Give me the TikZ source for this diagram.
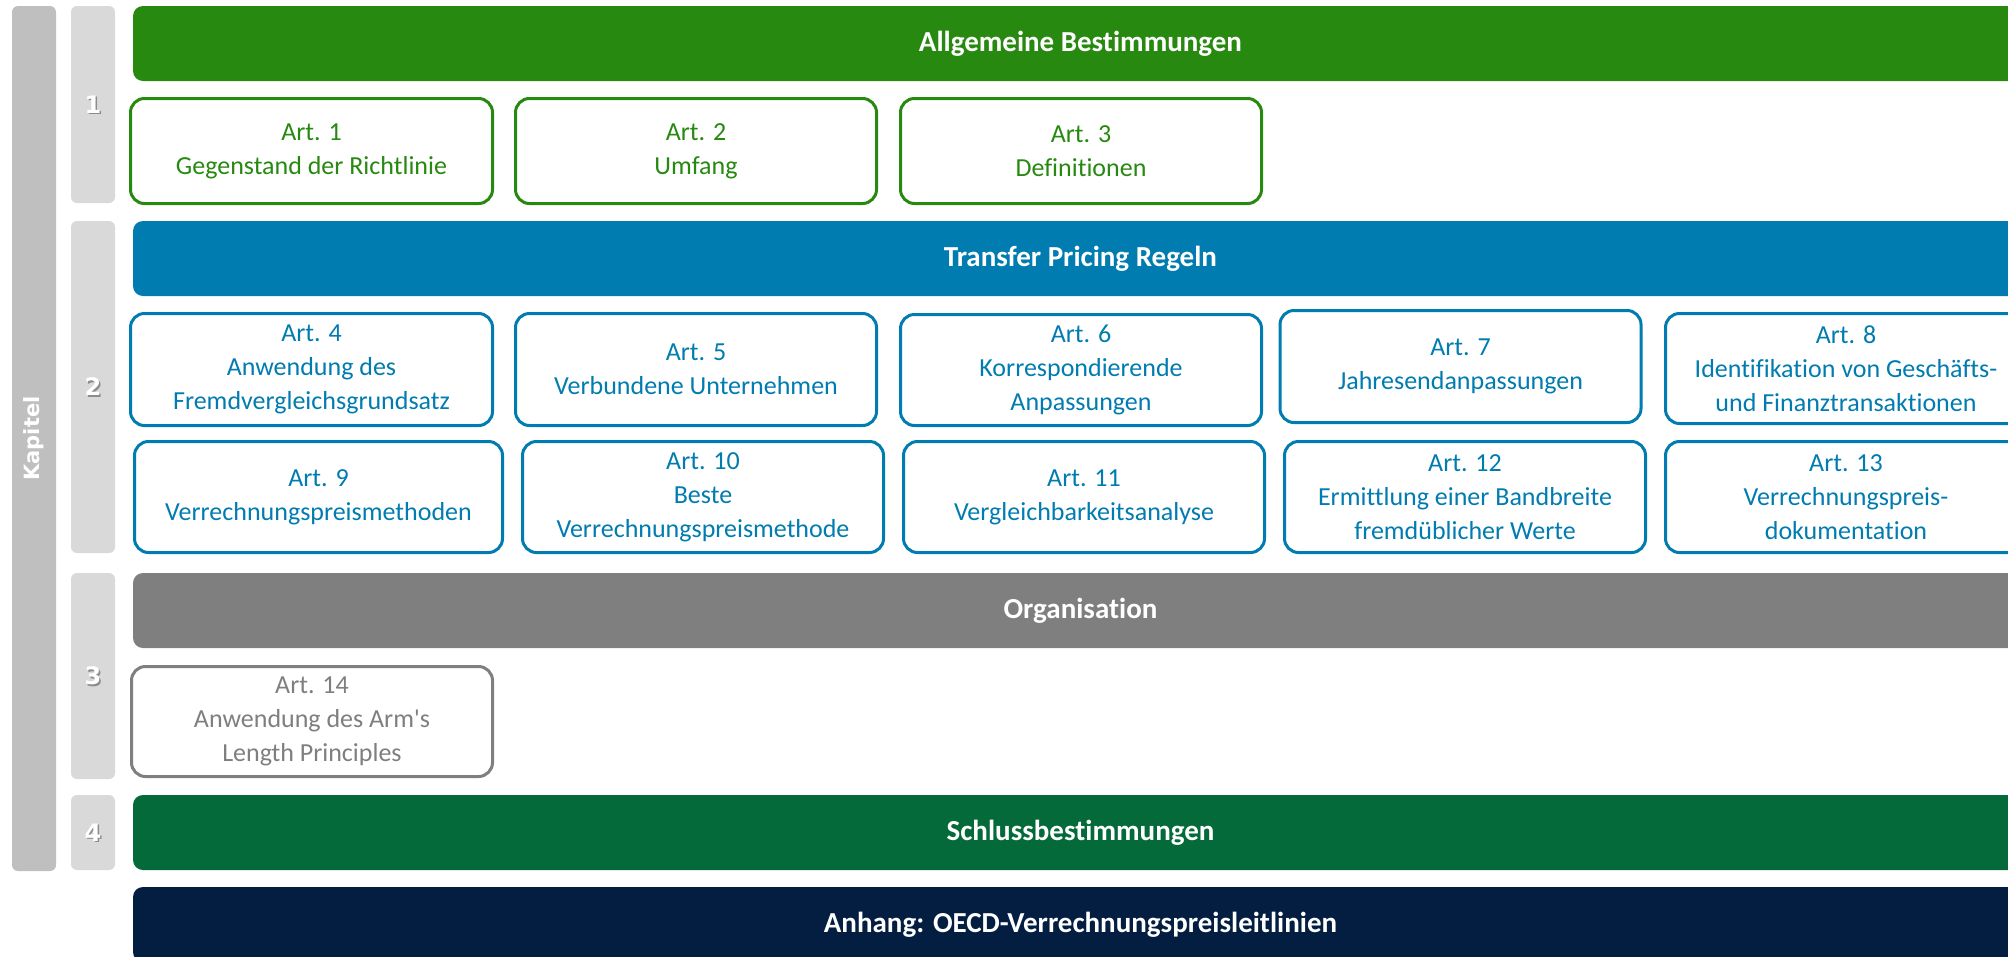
\documentclass[tikz,border=0pt]{standalone}
\usepackage{fontspec}
\setmainfont{Carlito}[Ligatures={TeX,NoCommon}]
\newfontfamily\numfont{DejaVu Sans}
\usetikzlibrary{positioning}

\definecolor{cgreen}{RGB}{40,137,16}
\definecolor{cblue}{RGB}{0,124,176}
\definecolor{cgray}{RGB}{127,127,127}
\definecolor{cdkgreen}{RGB}{5,106,57}
\definecolor{cnavy}{RGB}{4,30,66}
\definecolor{kapbar}{RGB}{191,191,191}
\definecolor{numbar}{RGB}{217,217,217}

\tikzset{
  hdr/.style={fill=#1, rounded corners=10pt, inner sep=0pt,
    minimum width=1895pt, minimum height=75pt, text=white,
    font=\bfseries\fontsize{29}{34}\selectfont},
  artbox/.style={draw=#1, text=#1, line width=3pt, rounded corners=14pt,
    fill=white, align=center, inner sep=0pt, minimum width=361pt,
    font=\fontsize{26}{34}\selectfont},
  sidebar/.style={fill=#1, rounded corners=6pt, inner sep=0pt,
    minimum width=44pt},
  numlabel/.style={text=white, inner sep=0pt,
    font=\numfont\bfseries\fontsize{24}{28}\selectfont},
  numshadow/.style={text=black!45, inner sep=0pt,
    font=\numfont\bfseries\fontsize{24}{28}\selectfont},
}

\begin{document}
\begin{tikzpicture}[x=1pt, y=-1pt]
\useasboundingbox (0,0) rectangle (2008,956);
\clip (0,0) rectangle (2008,956);

% chapter column and chapter number bars
\node[sidebar=kapbar, minimum height=865pt] (kap) at (34,438.5) {};
\node[rotate=90, text=white, font=\numfont\bfseries\fontsize{21}{24}\selectfont] (kaplabel) at (kap.center) {Kapitel};

\node[sidebar=numbar, minimum height=197pt] (n1) at (93,104.5) {};
\node[sidebar=numbar, minimum height=332pt] (n2) at (93,387) {};
\node[sidebar=numbar, minimum height=206pt] (n3) at (93,676) {};
\node[sidebar=numbar, minimum height=75pt]  (n4) at (93,832.5) {};

\foreach \n in {1,2,3,4}{
  \node[numshadow] (s\n) at ([shift={(1.5pt,-1.5pt)}]n\n.center) {\n};
  \node[numlabel] (l\n) at (n\n.center) {\n};
}

% section headers
\node[hdr=cgreen]   (h1) at (1080.5,43.5)  {Allgemeine Bestimmungen};
\node[hdr=cblue]    (h2) at (1080.5,258.5) {Transfer Pricing Regeln};
\node[hdr=cgray]    (h3) at (1080.5,610.5) {Organisation};
\node[hdr=cdkgreen] (h4) at (1080.5,832.5) {Schlussbestimmungen};
\node[hdr=cnavy]    (h5) at (1080.5,924.5) {Anhang: OECD-Verrechnungspreisleitlinien};

% chapter 1
\node[artbox=cgreen, minimum height=105pt, minimum width=362pt] (a1) at (311.5,151) {Art. 1\\Gegenstand der Richtlinie};
\node[artbox=cgreen, minimum height=105pt] (a2) at (696,151)  {Art. 2\\Umfang};
\node[artbox=cgreen, minimum height=105pt] (a3) at (1081,151) {Art. 3\\Definitionen};

% chapter 2, first row
\node[artbox=cblue, minimum height=112pt, minimum width=362pt] (a4) at (311.5,369.5) {Art. 4\\Anwendung des\\Fremdvergleichsgrundsatz};
\node[artbox=cblue, minimum height=112pt] (a5) at (696,369.5)  {Art. 5\\Verbundene Unternehmen};
\node[artbox=cblue, minimum height=111pt] (a6) at (1081,370)   {Art. 6\\Korrespondierende\\Anpassungen};
\node[artbox=cblue, minimum height=112pt] (a7) at (1460.5,366.5) {Art. 7\\Jahresendanpassungen};
\node[artbox=cblue, minimum height=110pt] (a8) at (1846,368.5) {Art. 8\\Identifikation von Geschäfts-\\und Finanztransaktionen};

% chapter 2, second row
\node[artbox=cblue, minimum height=111pt, minimum width=368pt] (a9) at (318.5,497) {Art. 9\\Verrechnungspreismethoden};
\node[artbox=cblue, minimum height=111pt] (a10) at (703,497)  {Art. 10\\Beste\\Verrechnungspreismethode};
\node[artbox=cblue, minimum height=111pt] (a11) at (1084,497) {Art. 11\\Vergleichbarkeitsanalyse};
\node[artbox=cblue, minimum height=111pt] (a12) at (1465,497) {Art. 12\\Ermittlung einer Bandbreite\\fremdüblicher Werte};
\node[artbox=cblue, minimum height=111pt] (a13) at (1846,497) {Art. 13\\Verrechnungspreis-\\dokumentation};

% chapter 3
\node[artbox=cgray, minimum height=110pt] (a14) at (312,721.5) {Art. 14\\Anwendung des Arm\textquotesingle s\\Length Principles};
\end{tikzpicture}
\end{document}
